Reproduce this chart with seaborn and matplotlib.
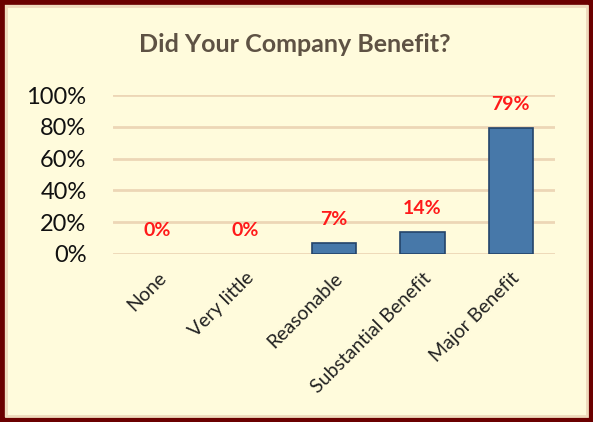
import matplotlib
matplotlib.use('Agg')
import matplotlib.pyplot as plt
import seaborn as sns
import pandas as pd
from matplotlib.patches import Rectangle
from matplotlib.ticker import PercentFormatter

# Respuestas de la encuesta
categories = ['None', 'Very little', 'Reasonable', 'Substantial Benefit', 'Major Benefit']
shares = [0.0, 0.0, 0.07, 0.14, 0.79]
label_texts = ['0%', '0%', '7%', '14%', '79%']
y_ticks = [0, 0.2, 0.4, 0.6, 0.8, 1.0]

cream = '#FFFBDC'
sns.set_style('white')
plt.rcParams['font.family'] = ['Lato', 'DejaVu Sans']

df = pd.DataFrame({'answer': categories, 'share': shares})

fig = plt.figure(figsize=(5.93, 4.22), dpi=100, facecolor=cream)
ax = fig.add_axes([113 / 593, 1 - 254 / 422, 442 / 593, 159 / 422])
ax.set_facecolor(cream)

sns.barplot(data=df, x='answer', y='share', color='#4778A9', width=0.5,
            saturation=1, edgecolor='#24446A', linewidth=1.2, ax=ax, zorder=3)
# sin borde para barras vacias
for p in ax.patches:
    if p.get_height() == 0:
        p.set_linewidth(0)

ax.set_ylim(0, 1)
ax.set_xlim(-0.5, len(categories) - 0.5)
ax.set_yticks(y_ticks)
ax.yaxis.set_major_formatter(PercentFormatter(1.0, decimals=0))
ax.grid(axis='y', color='#EDD6B6', linewidth=2, zorder=0)
ax.set_axisbelow(True)
for s in ax.spines.values():
    s.set_visible(False)
ax.tick_params(axis='y', labelsize=17, length=0, pad=19, labelcolor='#111111')
ax.tick_params(axis='x', labelsize=14, length=0, pad=11, labelcolor='#222222')
plt.setp(ax.get_xticklabels(), rotation=45, ha='right', rotation_mode='anchor')
ax.set_xlabel('')
ax.set_ylabel('')

for i, (v, t) in enumerate(zip(shares, label_texts)):
    ax.annotate(t, (i, v), xytext=(0, 17), textcoords='offset points',
                ha='center', va='center', color='#FF1A1A',
                fontsize=14, fontweight='bold')

fig.text(295 / 593, 1 - 45 / 422, 'Did Your Company Benefit?', ha='center',
         va='center', fontsize=18, fontweight='bold', color='#5E5244')

# marco
fig.patches.append(Rectangle((0, 0), 1, 1, transform=fig.transFigure,
                             fill=False, edgecolor='#6B0000', linewidth=7))
fig.patches.append(Rectangle((6 / 593, 6 / 422), 1 - 12 / 593, 1 - 12 / 422,
                             transform=fig.transFigure, fill=False,
                             edgecolor='#EFD9BC', linewidth=2))

fig.savefig('out.png', dpi=100, facecolor=cream)
